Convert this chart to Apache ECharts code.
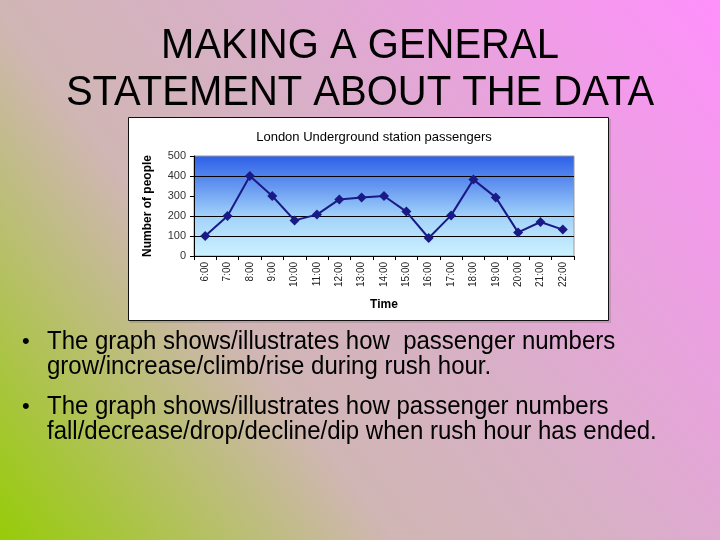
<!DOCTYPE html>
<html>
<head>
<meta charset="utf-8">
<script src="https://cdn.jsdelivr.net/npm/echarts@6/dist/echarts.min.js"></script>
<style>html,body{margin:0;padding:0;}#c{width:720px;height:540px;}</style>
</head>
<body>
<div id="c"></div>
<script>
const slideTitle = ['MAKING A GENERAL', 'STATEMENT ABOUT THE DATA'];
const chartTitle = 'London Underground station passengers';
const categories = ['6:00','7:00','8:00','9:00','10:00','11:00','12:00','13:00','14:00','15:00','16:00','17:00','18:00','19:00','20:00','21:00','22:00'];
const passengers = [100,200,400,300,178,207,283,293,300,222,90,203,382,293,118,170,132];
const yTicks = [0,100,200,300,400,500];
const bullets = [
  ['The graph shows/illustrates how  passenger numbers', 'grow/increase/climb/rise during rush hour.'],
  ['The graph shows/illustrates how passenger numbers', 'fall/decrease/drop/decline/dip when rush hour has ended.']
];

const chart = echarts.init(document.getElementById('c'));
const font = 'Arial, "Liberation Sans", sans-serif';

const graphics = [
  { type:'rect', shape:{x:130,y:119,width:481,height:204}, style:{fill:'rgba(0,0,0,0.12)'}, z:-2 },
  { type:'rect', shape:{x:128.5,y:117.5,width:480,height:203}, style:{fill:'#ffffff', stroke:'#111', lineWidth:1}, z:-1 },
  { type:'text', x:360, y:46, scaleY:1.08, style:{text:slideTitle[0], font:'40px '+font, fill:'#000', align:'center', verticalAlign:'middle'} },
  { type:'text', x:360, y:93, scaleY:1.08, style:{text:slideTitle[1], font:'40px '+font, fill:'#000', align:'center', verticalAlign:'middle'} }
];
const lineYs = [[342,367],[407,432]];
bullets.forEach((b,i)=>{
  graphics.push({ type:'text', x:22, y:lineYs[i][0], style:{text:'•', font:'22px '+font, fill:'#000', verticalAlign:'middle'} });
  b.forEach((t,j)=>{
    graphics.push({ type:'text', x:47, y:lineYs[i][j], scaleY:1.05, style:{text:t, font:'24px '+font, fill:'#000', verticalAlign:'middle'} });
  });
});

chart.setOption({
  backgroundColor: { type:'linear', x:1, y:0, x2:0, y2:1, colorStops:[
    {offset:0, color:'#ff90fc'},
    {offset:0.45, color:'#d8b0c6'},
    {offset:0.65, color:'#d0b6b4'},
    {offset:1, color:'#96cc08'}
  ]},
  animation:false,
  title: { text: chartTitle, left: 369, top: 126, textAlign:'center',
    textStyle:{ fontFamily: font, fontSize: 13, fontWeight:'normal', color:'#000' } },
  grid: { left:194, right:146, top:156, bottom:284, show:true, borderColor:'#999', borderWidth:1,
    backgroundColor: { type:'linear', x:0, y:0, x2:0, y2:1, colorStops:[
      {offset:0, color:'#2c5fe8'},
      {offset:0.3, color:'#6596f0'},
      {offset:0.6, color:'#a2d2fa'},
      {offset:1, color:'#cdf3ff'}
    ]} },
  xAxis: {
    type:'category', data:categories, boundaryGap:true,
    name:'Time', nameLocation:'middle', nameGap:43,
    nameTextStyle:{ fontFamily:font, fontSize:12, fontWeight:'bold', color:'#000' },
    axisLine:{ lineStyle:{ color:'#000', width:1 } },
    axisTick:{ show:true, alignWithLabel:false, length:4, lineStyle:{color:'#000'} },
    axisLabel:{ rotate:90, interval:0, fontFamily:font, fontSize:10, color:'#222', margin:6 }
  },
  yAxis: {
    type:'value', min:yTicks[0], max:yTicks[yTicks.length-1], interval:100,
    name:'Number of people', nameLocation:'middle', nameGap:40, nameRotate:90,
    nameTextStyle:{ fontFamily:font, fontSize:12, fontWeight:'bold', color:'#000' },
    axisLine:{ show:true, lineStyle:{ color:'#000', width:1 } },
    axisTick:{ show:true, length:4, lineStyle:{color:'#000'} },
    axisLabel:{ fontFamily:font, fontSize:11, color:'#333', margin:8 },
    splitLine:{ show:true, lineStyle:{ color:['#000','#000','#000','rgba(0,0,0,0)','#000','rgba(0,0,0,0)'], width:1 } }
  },
  series: [{
    type:'line', data:passengers, symbol:'diamond', symbolSize:10,
    lineStyle:{ color:'#1a1a86', width:2 },
    itemStyle:{ color:'#1a1a86' }
  }],
  graphic: graphics
});
</script>
</body>
</html>
